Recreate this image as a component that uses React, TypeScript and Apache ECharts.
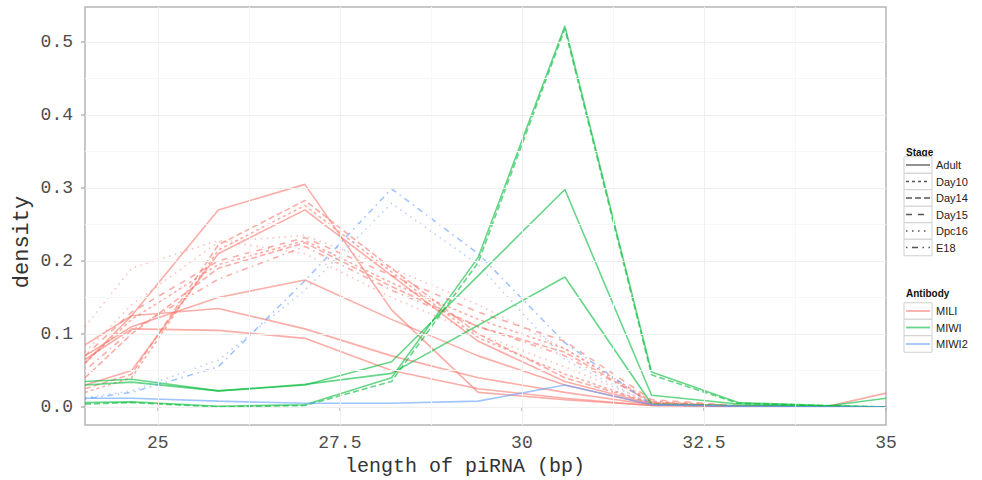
import React, { useEffect, useRef } from "react";
import * as echarts from "echarts";

// ---- data ----
const lengths = [24, 24.64, 25.83, 27.02, 28.21, 29.4, 30.59, 31.78, 32.97, 34.16, 35];
const xTicks = [25, 27.5, 30, 32.5, 35];
const yTicks = [0, 0.1, 0.2, 0.3, 0.4, 0.5];
const xMajorGrid = [25, 27.5, 30, 32.5];
const xMinorGrid = [26.25, 28.75, 31.25, 33.75];
const yMajorGrid = [0, 0.1, 0.2, 0.3, 0.4, 0.5];
const yMinorGrid = [0.05, 0.15, 0.25, 0.35, 0.45];

const antibodies = ["MILI", "MIWI", "MIWI2"];
const stages = ["Adult", "Day10", "Day14", "Day15", "Dpc16", "E18"];

// MILI
const miliAdult1 = [0.085, 0.125, 0.27, 0.305, 0.133, 0.02, 0.01, 0.002, 0.001, 0.0, 0.0];
const miliAdult2 = [0.03, 0.05, 0.21, 0.27, 0.18, 0.09, 0.035, 0.004, 0.001, 0.0, 0.0];
const miliAdult3 = [0.07, 0.11, 0.15, 0.174, 0.12, 0.07, 0.03, 0.003, 0.001, 0.0, 0.0];
const miliAdult4 = [0.06, 0.125, 0.135, 0.107, 0.07, 0.04, 0.02, 0.003, 0.001, 0.0, 0.0];
const miliAdult5 = [0.065, 0.107, 0.105, 0.094, 0.05, 0.025, 0.012, 0.002, 0.001, 0.0, 0.019];
const miliDay10a = [0.02, 0.04, 0.215, 0.276, 0.185, 0.095, 0.045, 0.005, 0.001, 0.0, 0.0];
const miliDay10b = [0.06, 0.12, 0.195, 0.228, 0.17, 0.12, 0.08, 0.008, 0.001, 0.0, 0.0];
const miliDay14a = [0.025, 0.045, 0.222, 0.283, 0.19, 0.1, 0.04, 0.005, 0.001, 0.0, 0.0];
const miliDay14b = [0.04, 0.1, 0.19, 0.225, 0.165, 0.11, 0.075, 0.006, 0.001, 0.0, 0.0];
const miliDay15 = [0.07, 0.13, 0.2, 0.232, 0.18, 0.13, 0.09, 0.01, 0.002, 0.0, 0.0];
const miliDpc16a = [0.11, 0.19, 0.228, 0.21, 0.15, 0.1, 0.055, 0.006, 0.001, 0.0, 0.0];
const miliDpc16b = [0.075, 0.14, 0.226, 0.235, 0.19, 0.14, 0.08, 0.006, 0.001, 0.0, 0.0];
const miliE18 = [0.05, 0.105, 0.175, 0.22, 0.16, 0.11, 0.07, 0.007, 0.001, 0.0, 0.0];
// MIWI
const miwiAdult1 = [0.006, 0.007, 0.001, 0.003, 0.04, 0.205, 0.522, 0.048, 0.006, 0.002, 0.0];
const miwiDay14 = [0.004, 0.006, 0.0, 0.002, 0.035, 0.198, 0.518, 0.044, 0.005, 0.002, 0.0];
const miwiAdult2 = [0.035, 0.038, 0.022, 0.03, 0.062, 0.18, 0.298, 0.016, 0.004, 0.001, 0.012];
const miwiAdult3 = [0.03, 0.034, 0.022, 0.031, 0.046, 0.112, 0.178, 0.004, 0.002, 0.001, 0.0];
// MIWI2
const miwi2E18 = [0.011, 0.02, 0.055, 0.173, 0.299, 0.21, 0.088, 0.003, 0.001, 0.0, 0.0];
const miwi2Dpc16 = [0.013, 0.022, 0.064, 0.16, 0.279, 0.195, 0.065, 0.003, 0.001, 0.0, 0.0];
const miwi2Adult = [0.012, 0.012, 0.008, 0.005, 0.005, 0.008, 0.03, 0.003, 0.001, 0.0, 0.0];

const samples = [
  { antibody: "MILI", stage: "Adult", values: miliAdult1 },
  { antibody: "MILI", stage: "Adult", values: miliAdult2 },
  { antibody: "MILI", stage: "Adult", values: miliAdult3 },
  { antibody: "MILI", stage: "Adult", values: miliAdult4 },
  { antibody: "MILI", stage: "Adult", values: miliAdult5 },
  { antibody: "MILI", stage: "Day10", values: miliDay10a },
  { antibody: "MILI", stage: "Day10", values: miliDay10b },
  { antibody: "MILI", stage: "Day14", values: miliDay14a },
  { antibody: "MILI", stage: "Day14", values: miliDay14b },
  { antibody: "MILI", stage: "Day15", values: miliDay15 },
  { antibody: "MILI", stage: "Dpc16", values: miliDpc16a },
  { antibody: "MILI", stage: "Dpc16", values: miliDpc16b },
  { antibody: "MILI", stage: "E18", values: miliE18 },
  { antibody: "MIWI", stage: "Adult", values: miwiAdult1 },
  { antibody: "MIWI", stage: "Day14", values: miwiDay14 },
  { antibody: "MIWI", stage: "Adult", values: miwiAdult2 },
  { antibody: "MIWI", stage: "Adult", values: miwiAdult3 },
  { antibody: "MIWI2", stage: "E18", values: miwi2E18 },
  { antibody: "MIWI2", stage: "Dpc16", values: miwi2Dpc16 },
  { antibody: "MIWI2", stage: "Adult", values: miwi2Adult },
];

// ---- styles ----
const antibodyColors: Record<string, string> = { MILI: "#F8766D", MIWI: "#00BA38", MIWI2: "#619CFF" };
const stageDash: Record<string, any> = {
  Adult: "solid",
  Day10: [3, 3],
  Day14: [6, 3],
  Day15: [6, 6],
  Dpc16: [1.5, 4.5],
  E18: [1.5, 4.5, 6, 4.5],
};

const MONO = '"Liberation Mono", "Courier New", monospace';
const SANS = '"Liberation Sans", Arial, sans-serif';

function buildLegend() {
  const children: any[] = [];
  const keyH = 16.5;
  children.push({
    type: "text", x: 906, y: 152,
    style: { text: "Stage", fontFamily: SANS, fontWeight: "bold", fontSize: 10, fill: "#111", verticalAlign: "middle" },
  });
  stages.forEach((name, i) => {
    const cy = 165 + i * keyH;
    const dash = stageDash[name];
    children.push({ type: "rect", shape: { x: 904, y: cy - keyH / 2, width: 28, height: keyH }, style: { fill: "#fff", stroke: "#d0d0d0", lineWidth: 1 } });
    children.push({ type: "line", shape: { x1: 906, y1: cy, x2: 930, y2: cy }, style: { stroke: "#555", lineWidth: 1.3, lineDash: dash === "solid" ? null : dash } });
    children.push({ type: "text", x: 936, y: cy, style: { text: name, fontFamily: SANS, fontSize: 11, fill: "#222", verticalAlign: "middle" } });
  });
  children.push({
    type: "text", x: 906, y: 293,
    style: { text: "Antibody", fontFamily: SANS, fontWeight: "bold", fontSize: 10, fill: "#111", verticalAlign: "middle" },
  });
  antibodies.forEach((name, i) => {
    const cy = 311 + i * keyH;
    children.push({ type: "rect", shape: { x: 904, y: cy - keyH / 2, width: 28, height: keyH }, style: { fill: "#fff", stroke: "#d0d0d0", lineWidth: 1 } });
    children.push({ type: "line", shape: { x1: 906, y1: cy, x2: 930, y2: cy }, style: { stroke: antibodyColors[name], lineWidth: 1.8, opacity: 0.6 } });
    children.push({ type: "text", x: 936, y: cy, style: { text: name, fontFamily: SANS, fontSize: 11, fill: "#222", verticalAlign: "middle" } });
  });
  return children;
}

function gridSeries(xs: number[], ys: number[], color: string) {
  return {
    type: "line",
    data: [],
    z: 1,
    silent: true,
    markLine: {
      silent: true,
      symbol: ["none", "none"],
      label: { show: false },
      animation: false,
      lineStyle: { color, width: 1, type: "solid" },
      data: [...xs.map((v) => ({ xAxis: v })), ...ys.map((v) => ({ yAxis: v }))],
    },
  };
}

export default function App() {
  const ref = useRef<HTMLDivElement>(null);
  useEffect(() => {
    if (!ref.current) return;
    const chart = echarts.init(ref.current, null, { renderer: "svg" });
    const lineSeries = samples.map((s) => ({
      type: "line",
      name: s.antibody + " " + s.stage,
      data: s.values.map((v, i) => [lengths[i], v]),
      showSymbol: false,
      symbol: "none",
      z: 2,
      clip: true,
      lineStyle: {
        color: antibodyColors[s.antibody],
        width: 1.6,
        opacity: s.stage === "Dpc16" ? 0.45 : 0.6,
        type: stageDash[s.stage],
      },
    }));
    chart.setOption({
      animation: false,
      backgroundColor: "#ffffff",
      grid: {
        left: 85, right: 96, top: 7, bottom: 55,
        show: true, borderColor: "#b5b5b5", borderWidth: 1.5, backgroundColor: "#fff",
      },
      xAxis: {
        type: "value", min: 24, max: 35,
        axisLine: { show: false },
        splitLine: { show: false },
        axisTick: { show: true, customValues: xTicks, length: 4, lineStyle: { color: "#b5b5b5", width: 1.5 } },
        axisLabel: {
          customValues: xTicks, fontFamily: MONO, fontSize: 18, color: "#4d4d4d", margin: 9,
          formatter: (v: number) => String(v),
        },
      },
      yAxis: {
        type: "value", min: -0.0247, max: 0.548,
        axisLine: { show: false },
        splitLine: { show: false },
        axisTick: { show: true, customValues: yTicks, length: 4, lineStyle: { color: "#b5b5b5", width: 1.5 } },
        axisLabel: {
          customValues: yTicks, fontFamily: MONO, fontSize: 18, color: "#4d4d4d", margin: 12,
          formatter: (v: number) => v.toFixed(1),
        },
      },
      graphic: [
        { type: "text", x: 465, y: 466, style: { text: "length of piRNA (bp)", fontFamily: MONO, fontSize: 20, fill: "#333", align: "center", verticalAlign: "middle" } },
        { type: "text", x: 22, y: 242, rotation: Math.PI / 2, style: { text: "density", fontFamily: MONO, fontSize: 22, fill: "#333", align: "center", verticalAlign: "middle" } },
        { type: "group", children: buildLegend() },
      ],
      series: [
        gridSeries(xMinorGrid, yMinorGrid, "#f7f7f7"),
        gridSeries(xMajorGrid, yMajorGrid, "#efefef"),
        ...lineSeries,
      ],
    });
    return () => chart.dispose();
  }, []);
  return <div ref={ref} style={{ position: "fixed", left: 0, top: 0, width: 982, height: 480, background: "#fff" }} />;
}
